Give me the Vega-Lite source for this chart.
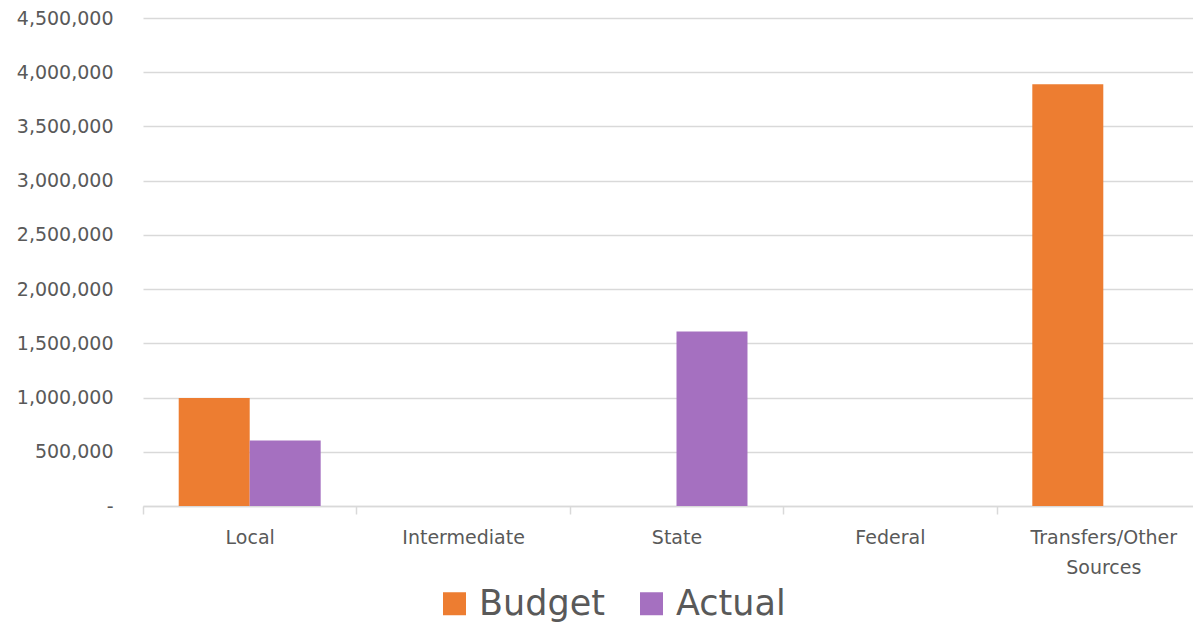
{
  "$schema": "https://vega.github.io/schema/vega-lite/v6.json",
  "autosize": {"type": "none"},
  "padding": {"left": 143, "top": 18, "right": 0, "bottom": 117},
  "width": 1050,
  "height": 488,
  "background": "white",
  "config": {
    "view": {"stroke": null},
    "font": "DejaVu Sans",
    "axis": {"labelColor": "#595959", "labelFont": "DejaVu Sans", "labelFontSize": 19, "gridColor": "#d9d9d9", "gridWidth": 1.5, "title": null}
  },
  "data": {
    "values": [
      {"category": "Local", "series": "Budget", "amount": 997000},
      {"category": "Local", "series": "Actual", "amount": 605000},
      {"category": "Intermediate", "series": "Budget", "amount": 0},
      {"category": "Intermediate", "series": "Actual", "amount": 0},
      {"category": "State", "series": "Budget", "amount": 0},
      {"category": "State", "series": "Actual", "amount": 1609000},
      {"category": "Federal", "series": "Budget", "amount": 0},
      {"category": "Federal", "series": "Actual", "amount": 0},
      {"category": "Transfers/Other Sources", "series": "Budget", "amount": 3888000},
      {"category": "Transfers/Other Sources", "series": "Actual", "amount": 0}
    ]
  },
  "mark": {"type": "bar"},
  "encoding": {
    "x": {
      "field": "category",
      "type": "nominal",
      "sort": ["Local", "Intermediate", "State", "Federal", "Transfers/Other Sources"],
      "scale": {"range": [0, 1067], "paddingInner": 0, "paddingOuter": 0},
      "axis": {
        "labelAngle": 0,
        "domainColor": "#d9d9d9",
        "domainWidth": 1.5,
        "tickColor": "#d9d9d9",
        "tickWidth": 1.5,
        "tickSize": 8,
        "tickBand": "extent",
        "labelPadding": 14,
        "labelLineHeight": 30,
        "labelBaseline": "top",
        "grid": false,
        "labelExpr": "datum.label == 'Transfers/Other Sources' ? ['Transfers/Other', 'Sources'] : datum.label"
      }
    },
    "xOffset": {
      "field": "series",
      "sort": ["Budget", "Actual"],
      "scale": {"paddingInner": 0, "paddingOuter": 0.503}
    },
    "y": {
      "field": "amount",
      "type": "quantitative",
      "scale": {"domain": [0, 4500000], "nice": false},
      "axis": {
        "values": [0, 500000, 1000000, 1500000, 2000000, 2500000, 3000000, 3500000, 4000000, 4500000],
        "domain": false,
        "ticks": false,
        "tickSize": 0,
        "labelPadding": 30,
        "grid": true,
        "labelExpr": "datum.value == 0 ? '-\u00a0\u00a0' : format(datum.value, ',')"
      }
    },
    "color": {
      "field": "series",
      "type": "nominal",
      "sort": ["Budget", "Actual"],
      "scale": {"domain": ["Budget", "Actual"], "range": ["#ED7D31", "#A570C0"]},
      "legend": {
        "title": null,
        "orient": "none",
        "legendX": 294,
        "legendY": 568,
        "direction": "horizontal",
        "padding": 0,
        "symbolType": "square",
        "symbolSize": 529,
        "symbolStrokeWidth": 0,
        "symbolOpacity": 1,
        "labelFontSize": 35,
        "labelColor": "#595959",
        "labelFont": "DejaVu Sans",
        "labelOffset": 7,
        "columnPadding": 29
      }
    }
  }
}
